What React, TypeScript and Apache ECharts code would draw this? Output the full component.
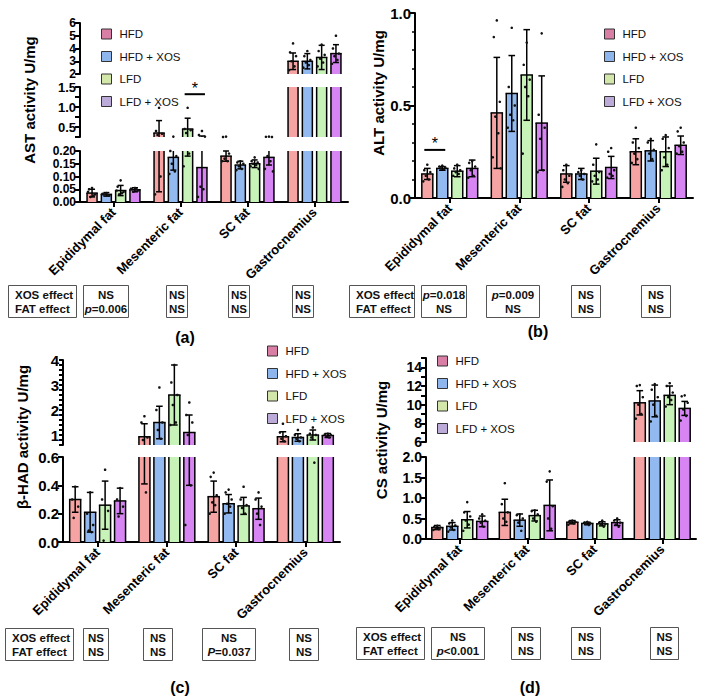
import React, { useEffect, useRef } from 'react';
import * as echarts from 'echarts';

const FONT = '"Liberation Sans", Arial, Helvetica, sans-serif';

const CATEGORIES = ['Epididymal fat', 'Mesenteric fat', 'SC fat', 'Gastrocnemius'];
const GROUPS = ['HFD', 'HFD + XOS', 'LFD', 'LFD + XOS'];
const BAR_COLORS = ['#F6A3A3', '#93BAF0', '#C8F3B8', '#D685F2'];
const LEGEND_COLORS = ['#D97FA5', '#8FB6EC', '#D4E7AA', '#BCAAD9'];
const EFFECT_LABELS = ['XOS effect', 'FAT effect'];

// ---- (a) AST activity U/mg : [category][group]
const astMean = [
  [0.035, 0.03, 0.045, 0.048],
  [0.35, 0.175, 0.45, 0.135],
  [0.18, 0.145, 0.15, 0.175],
  [3.0, 3.0, 3.3, 3.6],
];
const astSD = [
  [0.015, 0.007, 0.02, 0.008],
  [0.31, 0.05, 0.27, 0.14],
  [0.02, 0.015, 0.015, 0.03],
  [0.65, 0.6, 0.95, 0.7],
];
const astDots = [
  [[0.055, 0.05, 0.03, 0.02, 0.025, 0.04], [0.035, 0.03, 0.025, 0.03, 0.028, 0.032], [0.085, 0.06, 0.04, 0.03, 0.035, 0.045], [0.055, 0.05, 0.045, 0.04, 0.05, 0.052]],
  [[0.98, 0.4, 0.33, 0.3, 0.1, 0.03], [0.26, 0.2, 0.18, 0.15, 0.12, 0.11], [0.98, 0.45, 0.42, 0.35, 0.19, 0.14], [0.4, 0.3, 0.26, 0.06, 0.05, 0.02]],
  [[0.26, 0.25, 0.19, 0.17, 0.16, 0.16], [0.16, 0.155, 0.15, 0.14, 0.13, 0.125], [0.175, 0.16, 0.155, 0.15, 0.145, 0.14, 0.13], [0.26, 0.255, 0.25, 0.18, 0.16, 0.13, 0.12]],
  [[4.4, 3.7, 3.4, 3.0, 2.6, 2.3], [3.8, 3.4, 3.1, 2.9, 2.7, 2.5], [4.3, 3.8, 3.5, 3.2, 2.9, 2.6], [5.0, 4.0, 3.6, 3.4, 3.1, 2.8]],
];
const astTable = [['NS', 'p=0.006'], ['NS', 'NS'], ['NS', 'NS'], ['NS', 'NS']];

// ---- (b) ALT activity U/mg
const altMean = [
  [0.13, 0.16, 0.145, 0.16],
  [0.46, 0.565, 0.665, 0.405],
  [0.13, 0.13, 0.145, 0.165],
  [0.25, 0.255, 0.25, 0.285],
];
const altSD = [
  [0.03, 0.01, 0.03, 0.045],
  [0.3, 0.205, 0.245, 0.255],
  [0.045, 0.03, 0.07, 0.06],
  [0.07, 0.055, 0.08, 0.05],
];
const altDots = [
  [[0.18, 0.15, 0.14, 0.12, 0.1, 0.09], [0.175, 0.17, 0.165, 0.16, 0.155], [0.18, 0.16, 0.15, 0.14, 0.13, 0.12], [0.2, 0.19, 0.17, 0.15, 0.12, 0.11]],
  [[0.96, 0.87, 0.52, 0.44, 0.35, 0.22, 0.16], [0.92, 0.6, 0.5, 0.45, 0.42, 0.38], [0.84, 0.72, 0.64, 0.6, 0.55, 0.24], [0.89, 0.45, 0.38, 0.32, 0.15, 0.14]],
  [[0.18, 0.15, 0.12, 0.1, 0.08, 0.06], [0.15, 0.14, 0.13, 0.12, 0.1], [0.29, 0.18, 0.14, 0.12, 0.1, 0.09], [0.27, 0.25, 0.15, 0.13, 0.12, 0.11]],
  [[0.38, 0.3, 0.27, 0.24, 0.21, 0.19], [0.32, 0.3, 0.26, 0.24, 0.21], [0.34, 0.32, 0.27, 0.22, 0.18, 0.15], [0.38, 0.36, 0.3, 0.28, 0.25, 0.24]],
];
const altTable = [['p=0.018', 'NS'], ['p=0.009', 'NS'], ['NS', 'NS'], ['NS', 'NS']];

// ---- (c) β-HAD activity U/mg
const hadMean = [
  [0.3, 0.21, 0.26, 0.29],
  [0.93, 1.5, 2.6, 1.1],
  [0.32, 0.27, 0.255, 0.235],
  [0.93, 0.9, 1.0, 0.98],
];
const hadSD = [
  [0.09, 0.14, 0.17, 0.09],
  [0.52, 0.65, 1.2, 0.7],
  [0.11, 0.065, 0.06, 0.075],
  [0.2, 0.15, 0.2, 0.08],
];
const hadDots = [
  [[0.39, 0.3, 0.25, 0.17], [0.35, 0.2, 0.12, 0.08, 0.07], [0.51, 0.3, 0.22, 0.01], [0.38, 0.3, 0.25, 0.18]],
  [[1.75, 1.5, 0.9, 0.8, 0.35], [2.9, 2.0, 1.5, 1.2, 0.85], [3.8, 3.1, 2.6, 2.2, 1.5, 1.4], [2.3, 1.8, 1.5, 1.0, 0.4, 0.12]],
  [[0.49, 0.46, 0.33, 0.28, 0.26, 0.2], [0.37, 0.35, 0.3, 0.27, 0.25, 0.2], [0.39, 0.3, 0.26, 0.24, 0.2], [0.35, 0.3, 0.25, 0.2, 0.12]],
  [[1.45, 1.1, 0.95, 0.85, 0.75], [1.2, 1.0, 0.9, 0.85, 0.75], [1.3, 1.05, 1.0, 0.9, 0.56], [1.05, 1.02, 1.0, 0.95, 0.9]],
];
const hadTable = [['NS', 'NS'], ['NS', 'NS'], ['NS', 'P=0.037'], ['NS', 'NS']];

// ---- (d) CS activity U/mg
const csMean = [
  [0.28, 0.31, 0.47, 0.43],
  [0.65, 0.46, 0.57, 0.82],
  [0.41, 0.38, 0.37, 0.4],
  [10.2, 10.4, 11.0, 9.6],
];
const csSD = [
  [0.05, 0.09, 0.2, 0.13],
  [0.32, 0.15, 0.13, 0.62],
  [0.04, 0.03, 0.05, 0.07],
  [1.3, 1.7, 1.0, 0.75],
];
const csDots = [
  [[0.32, 0.3, 0.28, 0.26, 0.24, 0.22], [0.45, 0.38, 0.33, 0.28, 0.22, 0.18], [0.9, 0.65, 0.55, 0.45, 0.35, 0.2], [0.6, 0.5, 0.45, 0.4, 0.3]],
  [[1.36, 0.85, 0.65, 0.5, 0.42], [0.6, 0.58, 0.5, 0.4, 0.2], [0.7, 0.68, 0.6, 0.5, 0.42], [1.65, 1.4, 0.8, 0.5, 0.25]],
  [[0.45, 0.43, 0.42, 0.4, 0.38, 0.35], [0.42, 0.4, 0.38, 0.36, 0.34], [0.45, 0.4, 0.37, 0.35, 0.3], [0.5, 0.45, 0.4, 0.35, 0.3]],
  [[12.1, 12.0, 10.8, 10.0, 9.0, 8.5], [12.2, 11.6, 10.8, 10.0, 8.8, 8.2], [12.3, 12.0, 11.3, 10.8, 10.5, 9.8], [11.0, 10.9, 10.2, 9.5, 8.8, 8.3]],
];
const csTable = [['NS', 'p<0.001'], ['NS', 'NS'], ['NS', 'NS'], ['NS', 'NS']];

// significance markers: [panel, segment, category, group1, group2, value]
const SIGNIF = [
  [0, 1, 1, 2, 3, 1.32],
  [1, 0, 0, 0, 1, 0.26],
];

const isMult = (v: number, step: number) => Math.abs(v / step - Math.round(v / step)) < 1e-6;

const PANELS: any[] = [
  {
    title: 'AST activity U/mg', mean: astMean, sd: astSD, dots: astDots, table: astTable,
    left: 80, width: 268, barWidth: 10, barGap: 0.43,
    segs: [
      { top: 151, height: 51, min: 0, max: 0.2, interval: 0.05, dec: 2, show: () => true, fs: 12 },
      { top: 87, height: 50, min: 0.25, max: 1.5, interval: 0.25, dec: 1, show: (v: number) => isMult(v, 0.5), fs: 13 },
      { top: 23, height: 51, min: 2, max: 6, interval: 1, dec: 0, show: () => true, fs: 12 },
    ],
    legend: [96, 23], titlePos: [29, 100], label: '(a)', labelPos: [185, 337],
    tbl: { y: 285, h: 32, head: [8, 68], cells: [[83, 45], [166, 21], [228, 21], [292, 21]] },
  },
  {
    title: 'ALT activity U/mg', mean: altMean, sd: altSD, dots: altDots, table: altTable,
    left: 415, width: 278, barWidth: 11, barGap: 0.36,
    segs: [
      { top: 13, height: 185, min: 0, max: 1, interval: 0.5, dec: 1, show: () => true, minor: 5, fs: 15 },
    ],
    legend: [599, 23], titlePos: [378, 93], label: '(b)', labelPos: [538, 331],
    tbl: { y: 285, h: 32, head: [349, 65], cells: [[421, 45], [486, 53], [571, 29], [641, 29]] },
  },
  {
    title: 'β-HAD activity U/mg', mean: hadMean, sd: hadSD, dots: hadDots, table: hadTable,
    left: 63, width: 277, barWidth: 11, barGap: 0.36,
    segs: [
      { top: 457, height: 85, min: 0, max: 0.6, interval: 0.2, dec: 1, show: () => true, fs: 15 },
      { top: 360, height: 85, min: 0.6, max: 4, interval: 0.2, dec: 0, show: (v: number) => isMult(v, 1), tickLen: 4, fs: 15 },
    ],
    legend: [262, 340], titlePos: [22, 437], label: '(c)', labelPos: [180, 687],
    tbl: { y: 628, h: 32, head: [5, 68], cells: [[83, 25], [143, 29], [202, 53], [289, 29]] },
  },
  {
    title: 'CS activity U/mg', mean: csMean, sd: csSD, dots: csDots, table: csTable,
    left: 426, width: 270, barWidth: 11, barGap: 0.36,
    segs: [
      { top: 457, height: 82, min: 0, max: 2, interval: 0.5, dec: 1, show: () => true, fs: 14 },
      { top: 358, height: 84, min: 6, max: 15, interval: 1, dec: 0, show: (v: number) => isMult(v, 2) && v < 14.5, fs: 14 },
    ],
    legend: [432, 350], titlePos: [381, 440], label: '(d)', labelPos: [530, 687],
    tbl: { y: 627, h: 32, head: [356, 68], cells: [[431, 53], [511, 29], [571, 29], [650, 28]] },
  },
];

const JITTER = [0, -3, 3, -1.5, 1.5, -4, 4, 0.8];

function barCenter(api: any, p: any, c: number, g: number) {
  const bw = p.barWidth;
  const gap = bw * p.barGap;
  const total = 4 * bw + 3 * gap;
  return api.coord([c, 0])[0] - total / 2 + g * (bw + gap) + bw / 2;
}

function buildOption() {
  const grids: any[] = [];
  const xAxes: any[] = [];
  const yAxes: any[] = [];
  const series: any[] = [];
  const gridMap: number[][] = [];
  const graphics: any[] = [];

  PANELS.forEach((p, pi) => {
    gridMap.push([]);
    p.segs.forEach((s: any, si: number) => {
      const gi = grids.length;
      gridMap[pi].push(gi);
      grids.push({ left: p.left, width: p.width, top: s.top, height: s.height });
      xAxes.push({
        type: 'category', gridIndex: gi, data: CATEGORIES, show: si === 0, boundaryGap: true,
        axisLine: { show: true, lineStyle: { color: '#000', width: 2 } },
        axisTick: { show: true, alignWithLabel: true, length: 5, lineStyle: { color: '#000', width: 2 } },
        axisLabel: { interval: 0, rotate: 45, fontSize: 13, fontWeight: 'bold', color: '#000', margin: 8, fontFamily: FONT },
      });
      yAxes.push({
        type: 'value', gridIndex: gi, min: s.min, max: s.max, interval: s.interval,
        axisLine: { show: true, lineStyle: { color: '#000', width: 2 } },
        axisTick: { show: true, length: s.tickLen || 5, lineStyle: { color: '#000', width: 2 } },
        minorTick: s.minor ? { show: true, splitNumber: s.minor, length: 3, lineStyle: { color: '#000', width: 1.5 } } : { show: false },
        splitLine: { show: false },
        axisLabel: {
          fontSize: s.fs, fontWeight: 'bold', color: '#000', margin: 4, fontFamily: FONT,
          showMinLabel: true, showMaxLabel: true, hideOverlap: false,
          formatter: (v: number) => (s.show(v) ? v.toFixed(s.dec) : ''),
        },
      });
      GROUPS.forEach((name, g) => {
        series.push({
          type: 'bar', name, xAxisIndex: gi, yAxisIndex: gi,
          data: CATEGORIES.map((_, c) => p.mean[c][g]),
          barWidth: p.barWidth, barGap: Math.round(p.barGap * 100) + '%',
          itemStyle: { color: BAR_COLORS[g], borderWidth: 0 },
          clip: true, silent: true, z: 2,
        });
      });
      const data: any[] = [];
      CATEGORIES.forEach((_, c) => GROUPS.forEach((__, g) => data.push([c, p.mean[c][g]])));
      series.push({
        type: 'custom', name: 'overlay', coordinateSystem: 'cartesian2d', xAxisIndex: gi, yAxisIndex: gi,
        data, encode: { x: 0, y: 1 }, clip: false, silent: true, z: 4,
        renderItem: (params: any, api: any) => {
          const idx = params.dataIndex;
          const c = Math.floor(idx / 4);
          const g = idx % 4;
          const cs = params.coordSys;
          const top = cs.y;
          const bot = cs.y + cs.height;
          const clampY = (y: number) => Math.max(top, Math.min(bot, y));
          const inY = (y: number) => y >= top - 0.5 && y <= bot + 0.5;
          const yOf = (v: number) => api.coord([c, v])[1];
          const xc = barCenter(api, p, c, g);
          const hw = p.barWidth / 2;
          const ln = (x1: number, y1: number, x2: number, y2: number, w = 1.5) => ({
            type: 'line', shape: { x1, y1, x2, y2 }, style: { stroke: '#000', lineWidth: w },
          });
          const children: any[] = [];
          const m = p.mean[c][g];
          const yv = yOf(m);
          const y0 = yOf(0);
          const a = clampY(yv);
          const b = clampY(y0);
          if (b - a > 0.5) {
            children.push(ln(xc - hw, a, xc - hw, b));
            children.push(ln(xc + hw, a, xc + hw, b));
          }
          if (inY(yv)) children.push(ln(xc - hw - 0.75, yv, xc + hw + 0.75, yv));
          const sd = p.sd[c][g];
          const yh = yOf(m + sd);
          const yl = yOf(Math.max(0, m - sd));
          const a2 = clampY(yh);
          const b2 = clampY(yl);
          if (b2 - a2 > 0.5) children.push(ln(xc, a2, xc, b2));
          const cap = hw * 0.6;
          if (inY(yh)) children.push(ln(xc - cap, yh, xc + cap, yh));
          if (inY(yl) && m - sd > 0) children.push(ln(xc - cap, yl, xc + cap, yl));
          p.dots[c][g].forEach((v: number, k: number) => {
            const y = yOf(v);
            if (y >= top && y <= bot) {
              children.push({ type: 'circle', shape: { cx: xc + JITTER[k % JITTER.length], cy: y, r: 1.3 }, style: { fill: '#111' } });
            }
          });
          return { type: 'group', children };
        },
      });
    });
  });

  SIGNIF.forEach(([pi, si, cat, g1, g2, val]) => {
    const p = PANELS[pi];
    const gi = gridMap[pi][si];
    series.push({
      type: 'custom', name: 'signif', coordinateSystem: 'cartesian2d', xAxisIndex: gi, yAxisIndex: gi,
      data: [[cat, val]], encode: { x: 0, y: 1 }, clip: false, silent: true, z: 5,
      renderItem: (params: any, api: any) => {
        const x1 = barCenter(api, p, cat, g1) - 3;
        const x2 = barCenter(api, p, cat, g2) + 3;
        const y = api.coord([cat, val])[1];
        return {
          type: 'group', children: [
            { type: 'line', shape: { x1, y1: y, x2, y2: y }, style: { stroke: '#000', lineWidth: 2 } },
            { type: 'text', x: (x1 + x2) / 2, y: y + 2, style: { text: '*', fontSize: 16, fontFamily: FONT, fill: '#000', align: 'center', verticalAlign: 'bottom', textAlign: 'center', textVerticalAlign: 'bottom' } },
          ],
        };
      },
    });
  });

  const fmtCell = (s: string) => (/^[pP][=<]/.test(s) ? `{i|${s[0]}}{b|${s.slice(1)}}` : `{b|${s}}`);
  const rich = {
    b: { fontSize: 11.5, fontWeight: 'bold', fontFamily: FONT, fill: '#111', color: '#111', lineHeight: 14 },
    i: { fontSize: 11.5, fontWeight: 'bold', fontStyle: 'italic', fontFamily: FONT, fill: '#111', color: '#111', lineHeight: 14 },
  };

  PANELS.forEach((p) => {
    const t = p.tbl;
    const rect = (x: number, w: number) => ({
      type: 'rect', shape: { x: x + 0.5, y: t.y + 0.5, width: w, height: t.h },
      style: { fill: '#fff', stroke: '#555', lineWidth: 1 }, silent: true,
    });
    graphics.push(rect(t.head[0], t.head[1]));
    graphics.push({
      type: 'text', x: t.head[0] + 7, y: t.y + t.h / 2 + 1, silent: true,
      style: { text: EFFECT_LABELS.map((s) => `{b|${s}}`).join('\n'), rich, align: 'left', verticalAlign: 'middle', textAlign: 'left', textVerticalAlign: 'middle' },
    });
    p.table.forEach((cell: string[], k: number) => {
      const [x, w] = t.cells[k];
      graphics.push(rect(x, w));
      graphics.push({
        type: 'text', x: x + w / 2 + 0.5, y: t.y + t.h / 2 + 1, silent: true,
        style: { text: cell.map(fmtCell).join('\n'), rich, align: 'center', verticalAlign: 'middle', textAlign: 'center', textVerticalAlign: 'middle' },
      });
    });
    graphics.push({
      type: 'text', x: p.labelPos[0], y: p.labelPos[1], silent: true,
      style: { text: p.label, fontSize: 16, fontWeight: 'bold', fontFamily: FONT, fill: '#000', align: 'center', verticalAlign: 'middle', textAlign: 'center', textVerticalAlign: 'middle' },
    });
    graphics.push({
      type: 'text', x: p.titlePos[0], y: p.titlePos[1], rotation: Math.PI / 2, silent: true,
      style: { text: p.title, fontSize: 15, fontWeight: 'bold', fontFamily: FONT, fill: '#000', align: 'center', verticalAlign: 'middle', textAlign: 'center', textVerticalAlign: 'middle' },
    });
  });

  const legends = PANELS.map((p) => ({
    left: p.legend[0], top: p.legend[1], orient: 'vertical', icon: 'rect',
    itemWidth: 10, itemHeight: 10, itemGap: 10.5, selectedMode: false,
    itemStyle: { borderColor: '#333', borderWidth: 1 },
    textStyle: { fontSize: 11.5, color: '#111', fontFamily: FONT, padding: [0, 0, 0, 3] },
    data: GROUPS.map((name, i) => ({ name, itemStyle: { color: LEGEND_COLORS[i], borderColor: '#333', borderWidth: 1 } })),
  }));

  return {
    animation: false,
    backgroundColor: '#fff',
    textStyle: { fontFamily: FONT },
    grid: grids,
    xAxis: xAxes,
    yAxis: yAxes,
    legend: legends,
    series,
    graphic: { elements: graphics },
  };
}

export default function App() {
  const ref = useRef<HTMLDivElement>(null);
  useEffect(() => {
    if (!ref.current) return;
    const chart = echarts.init(ref.current, undefined, { renderer: 'svg' });
    chart.setOption(buildOption() as any);
    return () => chart.dispose();
  }, []);
  return (
    <div
      ref={ref}
      style={{ position: 'absolute', left: 0, top: 0, width: 706, height: 698, background: '#fff' }}
    />
  );
}
